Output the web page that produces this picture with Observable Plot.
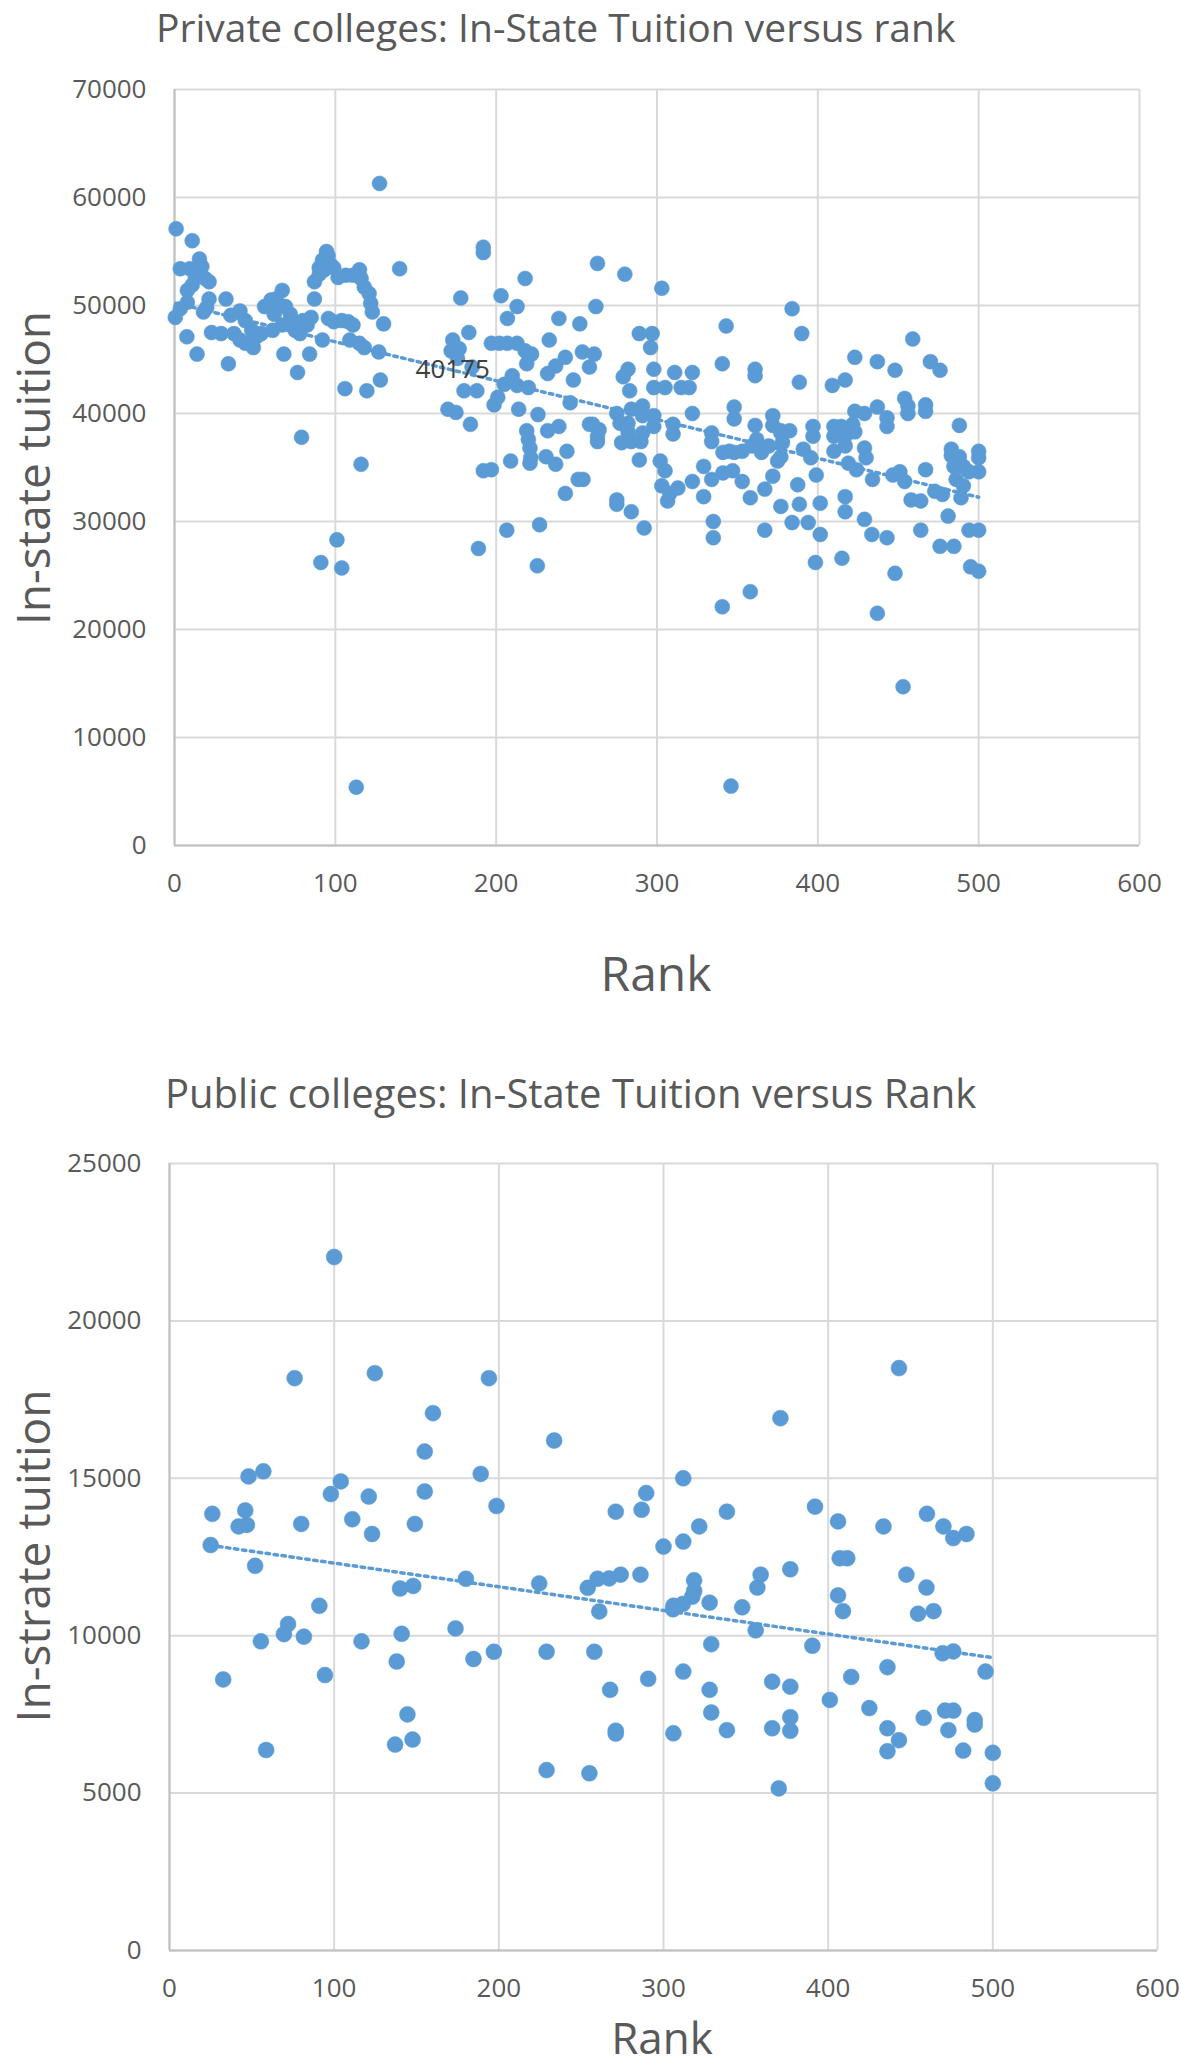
<!DOCTYPE html>
<html>
<head>
<meta charset="utf-8">
<script src="https://cdn.jsdelivr.net/npm/d3@7"></script>
<script src="https://cdn.jsdelivr.net/npm/@observablehq/plot@0.6"></script>
<style>
  html, body { margin: 0; padding: 0; background: #ffffff; }
  #page { position: relative; width: 1181px; height: 2068px; overflow: hidden; background: #fff; }
  .chart { position: absolute; left: 0; }
  #overlay { position: absolute; left: 0; top: 0; pointer-events: none; }
</style>
</head>
<body>
<div id="page">
  <div id="c1" class="chart" style="top:0px"></div>
  <div id="c2" class="chart" style="top:1040px"></div>
</div>
<script>
// ---------- DATA ----------
const titlePrivate = "Private colleges: In-State Tuition versus rank";
const titlePublic = "Public colleges: In-State Tuition versus Rank";
const xTitle = "Rank";
const yTitlePrivate = "In-state tuition";
const yTitlePublic = "In-strate tuition";

const rankTicks = [0, 100, 200, 300, 400, 500, 600];
const privateTuitionTicks = [0, 10000, 20000, 30000, 40000, 50000, 60000, 70000];
const publicTuitionTicks = [0, 5000, 10000, 15000, 20000, 25000];

// [rank, in-state tuition]
const privateColleges = [
[1,57100],[11,56000],[127.5,61300],[192,55400],[192,54900],[140,53400],[218,52500],[178,50700],[203,50900],[263,53900],[262,49900],
[0.5,48900],[3.6,49700],[8,50300],[3.6,53400],[9.5,53400],[15.5,54300],[17,53600],[13,52600],[19,52500],[21.5,52200],[11,51900],[8,51400],[21.5,50600],[20,49800],[18,49400],[32,50600],[7.7,47100],[14,45500],[33.5,44600],
[23,47500],[29,47400],[35,49100],[37,47400],[40.7,49500],[44,48600],[48,47700],[44,46500],[40.7,46800],[49,46100],[51,47100],[54,47400],[56,49900],[60,50500],[63,50600],[67,51400],[66,50000],[62,49200],[69,49900],[72,49200],[73,48600],[67,48200],[61,47700],[68,45500],[75,47700],[78,47400],[80,48600],[82.5,48200],[84,45500],[76.5,43800],[85,48900],[87,50600],
[90,53500],[92,54200],[94.5,55000],[95.5,54600],[93,53300],[87,52200],[90,52900],[97,53800],[99,53500],[101.7,52600],[106.5,52800],[111,52800],[115,53300],[116,52500],[118,51700],[121,51100],[122,50200],[123,49400],[130,48300],
[95.7,48800],[99,48500],[104,48600],[108,48500],[111,48200],[109,46800],[115,46500],[118,46100],[127,45700],
[92,46800],[106,42300],[119.6,42100],[128,43100],
[173,46800],[172,45800],[177,46000],[183,47500],[176,45100],[180,42100],[188,42100],[185,44300],[197,46500],[202,46500],[207,46500],[213,46500],[218,45800],[222,45500],[219,44600],[210,43500],[205,42700],[213,42600],[220,42400],[201,41500],[207,48800],[213,49900],[233,46800],[239,48800],[232,43700],[237,44400],[243,45200],[248,43100],[252,48300],[253.6,45700],[258,44300],[261,45500],
[79,37800],[116,35300],[101,28300],[91,26200],[104,25700],[113,5400],[170,40400],[175,40100],[184,39000],[198.7,40800],[214,40400],[226,39900],[219,38400],[220,37600],[221,36800],[221.5,35900],[221,35400],[209,35600],[192,34700],[197,34800],[189,27500],[206.6,29200],[227,29700],[225.6,25900],[232,38400],[239,38800],[231,36000],[237,35300],[244,36500],[243,32600],[251,33900],[254,33900],[246,41000],[260,39000],[263,37900],
[280,52900],[303,51600],[289,47400],[297,47400],[296,46100],[343,48100],[384,49700],[390,47400],[459,46900],[423,45200],[437,44800],[448,44000],[470,44800],[476,44000],[340.6,44600],[361,44100],[361,43500],[388.5,42900],[409,42600],[417,43100],[282,44100],[279,43400],[283,42100],[298,44100],[298,42400],[305,42400],[311,43800],[315,42400],[322,43800],[320,42400],
[275,40000],[282,38300],[291,39800],[298,38800],[290,37400],[310,38100],[322,40000],[334,37400],[348,40600],[348,39500],[361,38900],[372,38900],[377,38400],[382.5,38400],[397,37900],[410,37900],[417,37900],[423,38300],[423,40200],[429,40000],[437,40600],[443,38800],[454,41400],[456,40000],[467,40200],[488,38900],[483,36100],[500,35900],
[310,39000],[334,38200],[258,39000],[264,38500],[263,37400],[277,39100],[282,39100],[284,40400],[291,40700],[298,39800],[278,37300],[284,37400],[291,38200],[289,35700],[275,32000],[275,31600],[284,30900],[292,29400],[302,35600],[305,34700],[303,33300],[308,32600],[313,33100],[306.6,31900],[322,33700],[329,35100],[329,32300],[335,30000],[335,28500],[341,36400],[345,36500],[348,36400],[353,36500],[359,37000],[362,37600],[365,36400],[369.5,37000],[372,39800],[377,38200],[378,37300],[377,36000],[375,35600],[334,33900],[341,34500],[347,34700],[353,33700],[358,32200],[367,33000],[372,34200],[377,31400],[384,29900],[387.5,33400],[388.5,31600],[394,29900],[358,23500],[340.6,22100],[367,29200],[346,5500],
[397,38800],[391,36700],[395.6,35900],[399,34300],[401.5,31700],[401.5,28800],[398.5,26200],[410,38800],[414.6,38800],[421.7,39000],[410,36500],[417,37000],[419,35400],[424,34800],[429,36800],[430,35900],[417,32300],[417,30900],[415,26600],[434,33900],[429,30200],[433.6,28800],[443,28500],[437,21500],[448,25200],[453,14700],[443,39600],[446.6,34300],[451,34600],[454,33700],[458,32000],[464,31900],[467,34800],[464,29200],[472.7,32800],[477.5,32500],[481,30500],[476,27700],[484.6,27700],[483,36700],[488,36000],[484.6,35100],[490.5,35100],[494,34600],[486,33900],[490.5,33300],[489,32200],[500,36500],[500,34600],[494,29200],[500,29200],[495,25800],[500,25400],[456,40700],[467,40800]
];

const publicColleges = [
[25,12880],[26,13870],[32.6,8610],[42,13470],[46,13980],[47,13520],[48,15060],[52,12220],[55.5,9820],[57,15220],[58.7,6370],[69.5,10050],[72,10370],[76,18180],[80,13550],[81.6,9970],[91,10950],[94.4,8750],[98,14500],[100,22030],[104,14900],[111,13700],[116.6,9820],[121,14420],[123,13230],[124.7,18340],[137,6540],[138,9180],[140,11500],[141,10060],[144.5,7500],[147.6,6700],[148,11580],[149,13550],[155,15850],[155,14580],[160,17070],[173.7,10230],[180,11810],[184.6,9260],[189,15140],[194,18180],[197,9490],[198.6,14120],[224.5,11660],[229,9490],[229,5730],[233.6,16200],[254,11520],[255,5630],[258,9490],[260,11810],[261,10770],[267,11820],[267.6,8280],[271,13940],[271,6980],[271,6890],[274,11940],[286,11940],[286.7,14000],[289.5,14530],[290.7,8630],[300,12830],[305.8,10840],[306,10950],[306,6900],[311.7,11010],[312,15000],[312,12990],[312,8860],[317.5,11240],[318.6,11420],[318.6,11760],[321.7,13470],[328,11050],[328,8280],[329,9730],[329,7560],[338.5,13940],[338.5,7000],[347.8,10900],[356,10170],[357,11530],[359,11940],[366,8540],[366,7060],[370,5150],[371,16910],[377,12110],[377,8380],[377,7410],[377,6980],[390.4,9680],[392,14100],[401,7960],[406,13630],[406,11280],[407,12460],[409,10780],[411.6,12460],[414,8690],[425,7700],[433.6,13470],[436,9000],[436,7060],[436,6330],[443,18500],[443,6680],[447.5,11940],[454.6,10700],[458,7390],[459.7,11530],[460,13870],[464,10780],[469.5,9440],[470,13470],[471,7620],[473,7000],[476,13100],[476,9500],[476,7620],[482,6350],[484,13230],[489,7320],[489,7180],[495.6,8860],[500,6280],[500,5310]
];

// Dotted trend lines (end points)
const privateTrend = [[1, 50200], [500, 32250]];
const publicTrend = [[25, 12870], [500, 9300]];

// Data label shown on the private chart
const privateLabel = [[173, 44070, "40175"]];

// ---------- DRAWING ----------
const blue = "#5B9BD5";
const gridColor = "#d9d9d9";
const axisLineColor = "#bfbfbf";
const textColor = "#595959";
const FONT = "'Open Sans', 'Noto Sans', sans-serif";
const fmt = d3.format("d");

function toObjs(arr) { return arr.map(([rank, tuition]) => ({rank, tuition})); }

function chart({points, trend, yTicks, yMax, height, marginTop, marginBottom, marginLeft, marginRight, r, labels}) {
  const marks = [
    Plot.gridX(rankTicks, {stroke: gridColor, strokeOpacity: 1, strokeWidth: 2}),
    Plot.gridY(yTicks, {stroke: gridColor, strokeOpacity: 1, strokeWidth: 2}),
    Plot.ruleX([0], {stroke: axisLineColor, strokeWidth: 2}),
    Plot.ruleY([0], {stroke: axisLineColor, strokeWidth: 2}),
    Plot.line(toObjs(trend), {x: "rank", y: "tuition", stroke: blue, strokeWidth: 3.5, strokeDasharray: "3.5,4.5"}),
    Plot.dot(toObjs(points), {x: "rank", y: "tuition", r, fill: blue, stroke: blue, strokeWidth: 0.5}),
    Plot.axisX(rankTicks, {tickSize: 0, tickPadding: 28, tickFormat: fmt, label: null, fontSize: 26, fill: textColor}),
    Plot.axisY(yTicks, {tickSize: 0, tickPadding: 28, tickFormat: fmt, label: null, fontSize: 26, fill: textColor})
  ];
  if (labels) {
    marks.push(Plot.text(labels.map(([rank, tuition, text]) => ({rank, tuition, text})),
      {x: "rank", y: "tuition", text: "text", fontSize: 26, fill: "#404040", textAnchor: "middle", lineAnchor: "middle"}));
  }
  return Plot.plot({
    width: 1181, height, marginTop, marginBottom, marginLeft, marginRight,
    x: {domain: [0, 600]},
    y: {domain: [0, yMax]},
    style: {fontFamily: FONT, fontSize: "26px", color: textColor, background: "transparent", overflow: "visible"},
    marks
  });
}

document.getElementById("c1").appendChild(chart({
  points: privateColleges, trend: privateTrend, yTicks: privateTuitionTicks, yMax: 70000,
  height: 1040, marginTop: 89, marginBottom: 1040 - 845, marginLeft: 174, marginRight: 1181 - 1139, r: 7.5,
  labels: privateLabel
}));

document.getElementById("c2").appendChild(chart({
  points: publicColleges, trend: publicTrend, yTicks: publicTuitionTicks, yMax: 25000,
  height: 1028, marginTop: 1163 - 1040, marginBottom: 2068 - 1950, marginLeft: 169, marginRight: 1181 - 1157, r: 8
}));

// ---------- Titles and axis titles (real text) ----------
const ov = d3.select("#page").append("svg").attr("id", "overlay")
  .attr("width", 1181).attr("height", 2068)
  .style("font-family", FONT).style("fill", textColor);

ov.append("text").attr("x", 156).attr("y", 42).attr("font-size", 39).text(titlePrivate);
ov.append("text").attr("x", 165).attr("y", 1108).attr("font-size", 40).text(titlePublic);

ov.append("text").attr("transform", "translate(50,468) rotate(-90)")
  .attr("text-anchor", "middle").attr("font-size", 46).text(yTitlePrivate);
ov.append("text").attr("transform", "translate(50,1556) rotate(-90)")
  .attr("text-anchor", "middle").attr("font-size", 46).text(yTitlePublic);

ov.append("text").attr("x", 656).attr("y", 991).attr("text-anchor", "middle").attr("font-size", 48).text(xTitle);
ov.append("text").attr("x", 662).attr("y", 2054).attr("text-anchor", "middle").attr("font-size", 44).text(xTitle);
</script>
</body>
</html>
